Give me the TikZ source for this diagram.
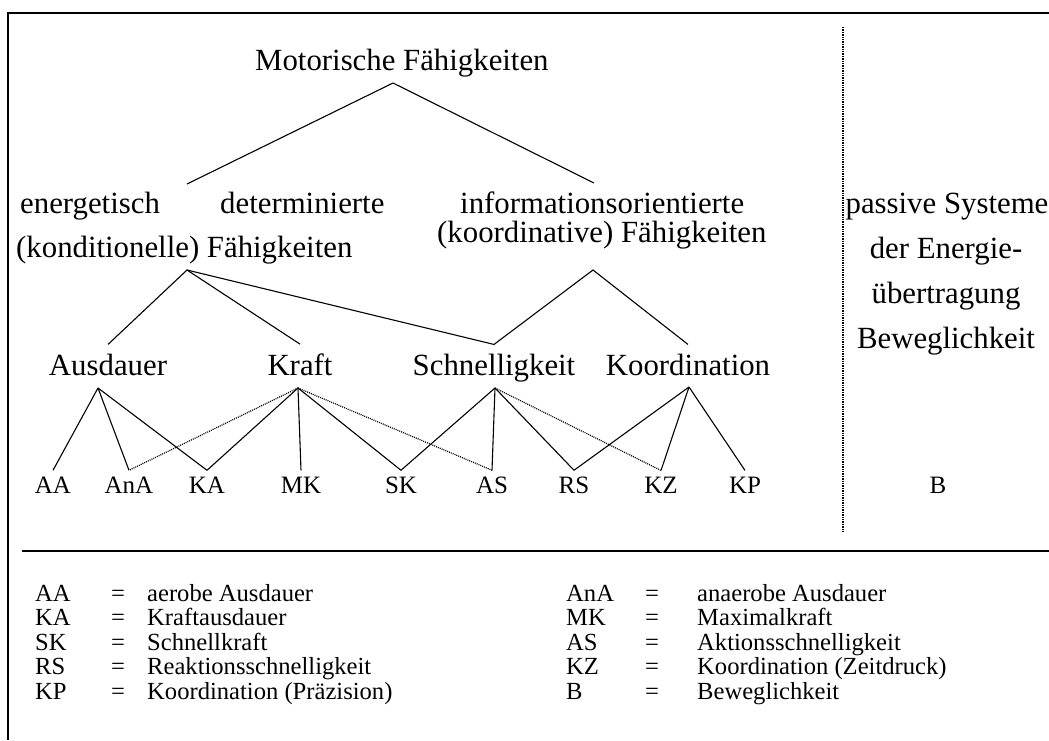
\documentclass[tikz,border=0pt]{standalone}
\usepackage{fontspec}
\setmainfont{Liberation Serif}
\begin{document}
\begin{tikzpicture}[x=1pt,y=-1pt,
txt/.style={anchor=base,inner sep=0pt,font=\fontsize{30.8}{34}\selectfont},
fk/.style={txt,inner sep=9pt},
abk/.style={anchor=base,inner sep=6pt,font=\fontsize{25}{28}\selectfont},
leg/.style={anchor=base west,inner sep=0pt,font=\fontsize{24.6}{27}\selectfont},
ast/.style={line width=1.1pt},
neben/.style={line width=1.2pt,dash pattern=on 1pt off 1pt}
]
\useasboundingbox (0,0) rectangle (1049,740);
% Rahmen
\draw[line width=2.4pt] (8,740) -- (8,13) -- (1049,13);
\draw[line width=2pt] (22,551) -- (1049,551);
\draw[line width=1.4pt,densely dotted] (843,27) -- (843,532);

\node[txt,anchor=base west] (mf) at (255,70) {Motorische Fähigkeiten};
\node[txt,anchor=base west] (en) at (20,213) {energetisch};
\node[txt,anchor=base west] (det) at (220,213) {determinierte};
\node[txt,anchor=base west] (info) at (460,213) {informationsorientierte};
\node[txt,anchor=base west] (kond) at (16,257) {(konditionelle) Fähigkeiten};
\node[txt,anchor=base west] (koord) at (437,242) {(koordinative) Fähigkeiten};

\node[txt] (ps) at (947,213) {passive Systeme};
\node[txt] (de) at (946,258) {der Energie-};
\node[txt] (ue) at (946,303) {übertragung};
\node[txt] (bew) at (946,348) {Beweglichkeit};

\node[fk] (aus) at (108,375) {Ausdauer};
\node[fk] (kraft) at (300,375) {Kraft};
\node[fk] (schnell) at (494,375) {Schnelligkeit};
\node[fk] (koordi) at (688,375) {Koordination};

\node[abk] (aa) at (53,493) {AA};
\node[abk] (ana) at (129,493) {AnA};
\node[abk] (ka) at (207,493) {KA};
\node[abk] (mk) at (301,493) {MK};
\node[abk] (sk) at (401,493) {SK};
\node[abk] (as) at (492,493) {AS};
\node[abk] (rs) at (574,493) {RS};
\node[abk] (kz) at (661,493) {KZ};
\node[abk] (kp) at (745,493) {KP};
\node[abk] (b) at (938,493) {B};

% Verzweigungspunkte
\coordinate (mfF) at (393,83);
\coordinate (enF) at (187,184);
\coordinate (infoF) at (594,183);
\coordinate (kondF) at (187,270);
\coordinate (koordF) at (593,270);
\coordinate (ausF) at (98,388);
\coordinate (kraftF) at (298,388);
\coordinate (schnellF) at (495,388);
\coordinate (koordiF) at (689,387);

\draw[ast] (enF) -- (mfF) -- (infoF);
\draw[ast] (aus.north) -- (kondF) -- (kraft.north);
\draw[ast] (kondF) -- (schnell.north) -- (koordF) -- (koordi.north);

\foreach \z in {aa,ana,ka} \draw[ast] (ausF) -- (\z.north);
\foreach \z in {ka,mk,sk} \draw[ast] (kraftF) -- (\z.north);
\foreach \z in {ana,as} \draw[neben] (kraftF) -- (\z.north);
\foreach \z in {sk,as,rs} \draw[ast] (schnellF) -- (\z.north);
\draw[neben] (schnellF) -- (kz.north);
\foreach \z in {rs,kz,kp} \draw[ast] (koordiF) -- (\z.north);

% Legende
\foreach \k/\d/\y [count=\i] in {AA/aerobe Ausdauer/601,KA/Kraftausdauer/625.5,
  SK/Schnellkraft/650,RS/Reaktionsschnelligkeit/674.5,KP/Koordination (Präzision)/699}{
  \node[leg] (la\i) at (35,\y) {\k};
  \node[leg,anchor=base] (lg\i) at (118,\y) {=};
  \node[leg] (lt\i) at (147,\y) {\d};
}
\foreach \k/\d/\y [count=\i] in {AnA/anaerobe Ausdauer/601,MK/Maximalkraft/625.5,
  AS/Aktionsschnelligkeit/650,KZ/Koordination (Zeitdruck)/674.5,B/Beweglichkeit/699}{
  \node[leg] (ra\i) at (566,\y) {\k};
  \node[leg,anchor=base] (rg\i) at (652,\y) {=};
  \node[leg] (rt\i) at (697,\y) {\d};
}
\end{tikzpicture}
\end{document}
